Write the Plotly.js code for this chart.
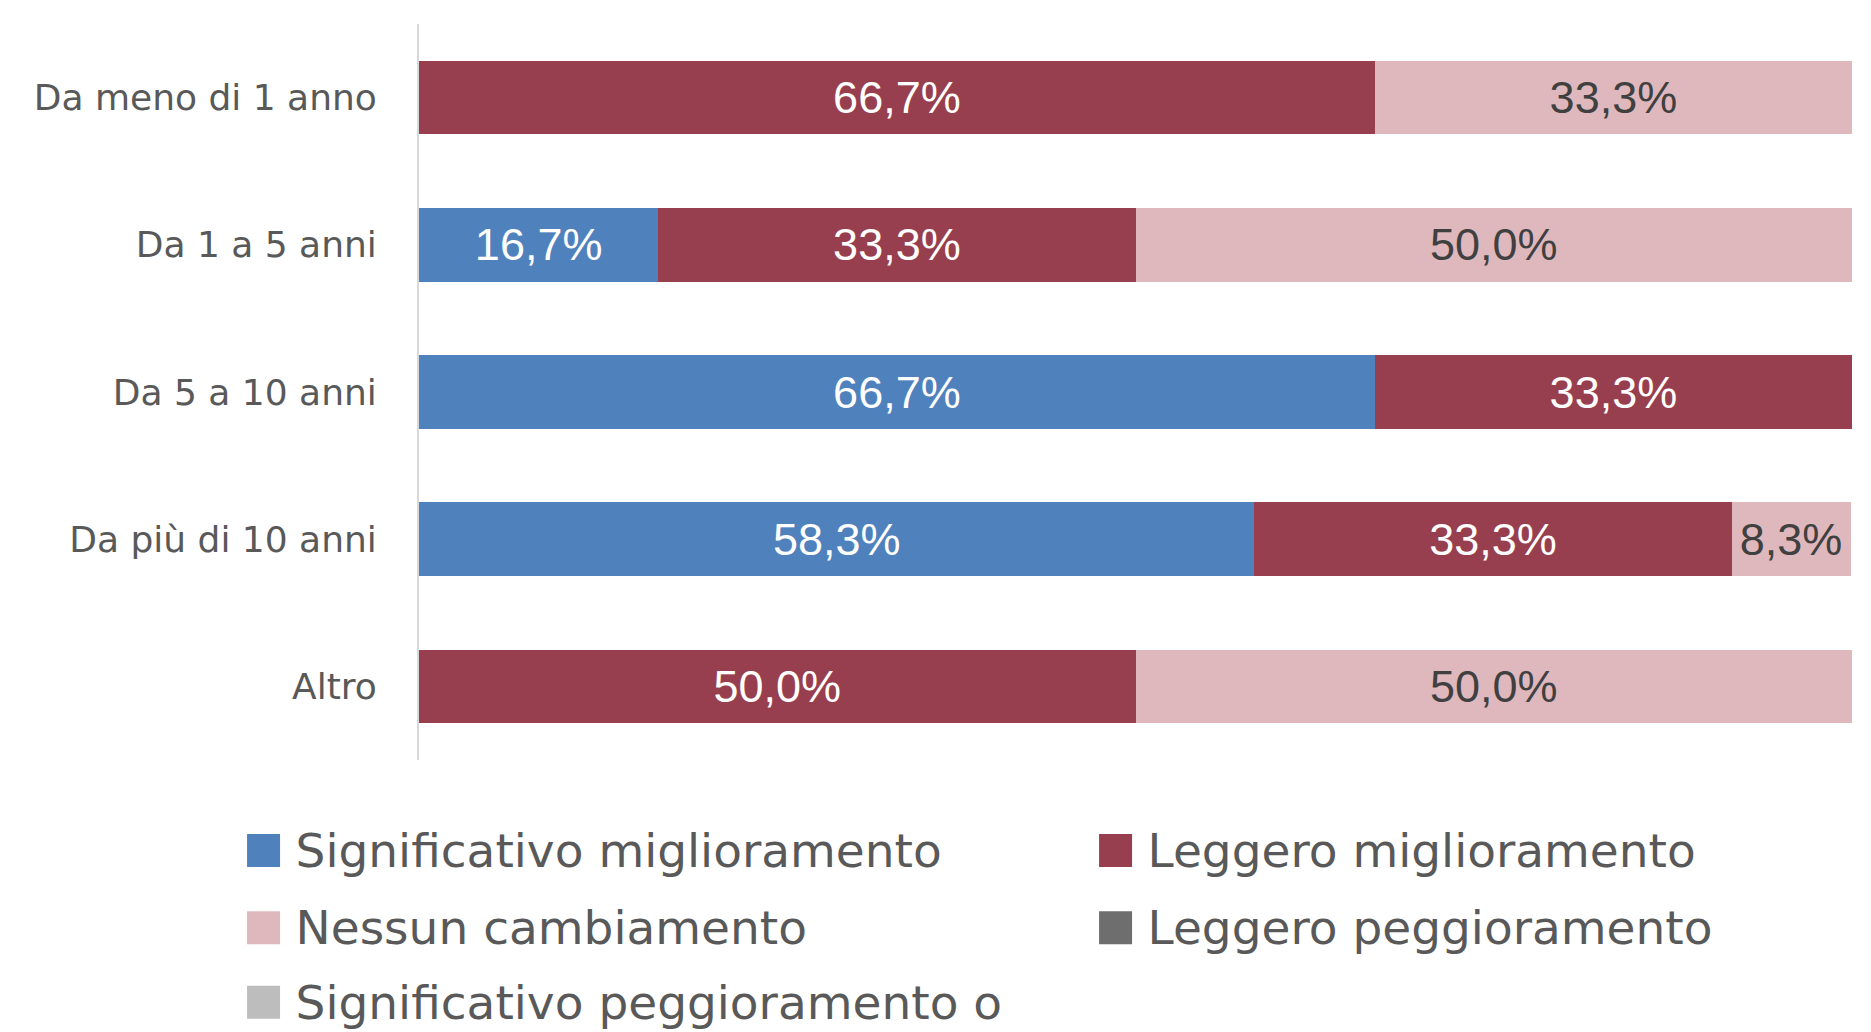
<!DOCTYPE html>
<html>
<head>
<meta charset="utf-8">
<script src="https://cdn.plot.ly/plotly-3.0.1.min.js"></script>
<style>
  html, body { margin: 0; padding: 0; background: #fff; }
  #chart { width: 1871px; height: 1032px; }
</style>
</head>
<body>
<div id="chart"></div>
<script>
// categories, top to bottom
const categories = ["Da meno di 1 anno", "Da 1 a 5 anni", "Da 5 a 10 anni", "Da più di 10 anni", "Altro"];

// percentages per series
const sigMiglioramento = [0, 16.7, 66.7, 58.3, 0];
const legMiglioramento = [66.7, 33.3, 33.3, 33.3, 50.0];
const nessunCambiamento = [33.3, 50.0, 0, 8.3, 50.0];
const legPeggioramento = [0, 0, 0, 0, 0];
const sigPeggioramento = [0, 0, 0, 0, 0];

const seriesNames = [
  "Significativo miglioramento",
  "Leggero miglioramento",
  "Nessun cambiamento",
  "Leggero peggioramento",
  "Significativo peggioramento o"
];
const seriesValues = [sigMiglioramento, legMiglioramento, nessunCambiamento, legPeggioramento, sigPeggioramento];
const seriesColors = ["#4F81BD", "#983F4F", "#DFB8BE", "#6E6E6E", "#BDBDBD"];
const labelColors = ["#ffffff", "#ffffff", "#404040", "#ffffff", "#404040"];
const legendIds = ["legend", "legend", "legend2", "legend2", "legend3"];

// "66,7%" style labels, nothing for empty segments
function fmt(v) {
  return v > 0 ? v.toFixed(1).replace(".", ",") + "%" : "";
}

let data = seriesValues.map((vals, i) => ({
  type: "bar",
  orientation: "h",
  name: seriesNames[i],
  y: categories,
  x: vals,
  text: vals.map(fmt),
  textposition: "inside",
  insidetextanchor: "middle",
  constraintext: "none",
  textangle: 0,
  cliponaxis: false,
  textfont: { family: "Liberation Sans, Arial, sans-serif", size: 45, color: labelColors[i] },
  marker: { color: seriesColors[i], line: { width: 0 } },
  legend: legendIds[i],
  hoverinfo: "skip"
}));

// three one-row legends so the row spacing can match
const legendItemWidth = 54;
let legendBase = {
  orientation: "h",
  traceorder: "normal",
  xref: "paper",
  yref: "paper",
  x: -0.1308,
  xanchor: "left",
  yanchor: "top",
  itemwidth: legendItemWidth,
  entrywidth: 783,
  entrywidthmode: "pixels",
  font: { family: "DejaVu Sans, sans-serif", size: 47, color: "#595959" },
  bgcolor: "rgba(0,0,0,0)",
  itemclick: false,
  itemdoubleclick: false
};

let layout = {
  width: 1871,
  height: 1032,
  barmode: "stack",
  bargap: 0.5,
  showlegend: true,
  paper_bgcolor: "#ffffff",
  plot_bgcolor: "#ffffff",
  margin: { l: 419, r: 19, t: 24, b: 272, autoexpand: false },
  xaxis: {
    range: [0, 100],
    showticklabels: false,
    showgrid: false,
    zeroline: false,
    showline: false,
    fixedrange: true
  },
  yaxis: {
    type: "category",
    autorange: "reversed",
    showgrid: false,
    zeroline: false,
    showline: true,
    linecolor: "#D9D9D9",
    linewidth: 2,
    ticks: "",
    ticklabelstandoff: 33,
    tickfont: { family: "DejaVu Sans, sans-serif", size: 36, color: "#595959" },
    fixedrange: true
  },
  legend: Object.assign({}, legendBase, { y: -0.070 }),
  legend2: Object.assign({}, legendBase, { y: -0.175 }),
  legend3: Object.assign({}, legendBase, { y: -0.276 })
};

// bigger square legend keys, like the original
function bigKeys() {
  const c = (legendItemWidth + 10) / 2;
  document.querySelectorAll("g.legendpoints path").forEach(function (p) {
    p.setAttribute("transform", "translate(" + c + ",2) scale(2.75)");
  });
}

const gd = document.getElementById("chart");
Plotly.newPlot(gd, data, layout, { displayModeBar: false }).then(function () {
  bigKeys();
  gd.on("plotly_afterplot", bigKeys);
  setTimeout(bigKeys, 50);
});
</script>
</body>
</html>
